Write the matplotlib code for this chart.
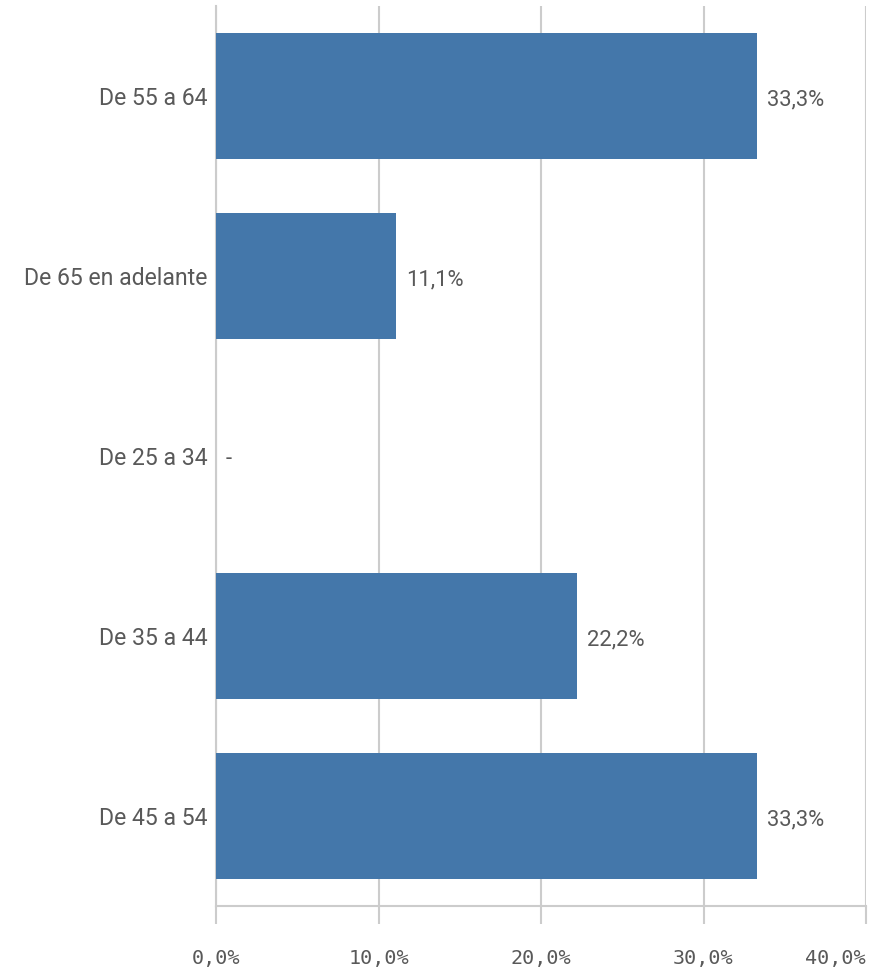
import matplotlib.pyplot as plt

categories = ['De 55 a 64', 'De 65 en adelante', 'De 25 a 34', 'De 35 a 44', 'De 45 a 54']
values = [33.3, 11.1, 0.0, 22.2, 33.3]
xticks = [0, 10, 20, 30, 40]
xtick_labels = ['0,0%', '10,0%', '20,0%', '30,0%', '40,0%']

bar_color = '#4477aa'
text_color = '#595959'
grid_color = '#cccccc'

fig = plt.figure(figsize=(8.88, 9.74), dpi=100)
ax = fig.add_axes([216 / 888, 68 / 974, 650 / 888, 900 / 974])

ypos = list(range(len(categories)))
ax.barh(ypos, values, height=0.7, color=bar_color, zorder=3)

# value labels at end of bars, "-" when zero
for y, v in zip(ypos, values):
    lbl = '-' if v == 0 else f'{v:.1f}%'.replace('.', ',')
    ax.text(v + 0.6, y + 0.02, lbl, va='center', ha='left',
            fontsize=15.8, family='Roboto', color=text_color)

ax.set_ylim(len(categories) - 0.5, -0.5)
ax.set_xlim(0, 40)
ax.set_yticks(ypos)
ax.set_yticklabels(categories, fontsize=16.6, family='Roboto', color=text_color)
ax.set_xticks(xticks)
ax.set_xticklabels(xtick_labels, fontsize=14.5, family='DejaVu Sans Mono', color=text_color)
# last tick label sits flush with the right edge
ax.get_xticklabels()[-1].set_horizontalalignment('right')

ax.tick_params(axis='y', length=0, pad=6)
ax.tick_params(axis='x', length=13, width=1.5, color=grid_color, pad=18)

ax.grid(axis='x', color=grid_color, linewidth=1.5, zorder=0)
for side in ['top', 'right']:
    ax.spines[side].set_visible(False)
for side in ['left', 'bottom']:
    ax.spines[side].set_color(grid_color)
    ax.spines[side].set_linewidth(1.5)

fig.savefig('out.png', dpi=100)
